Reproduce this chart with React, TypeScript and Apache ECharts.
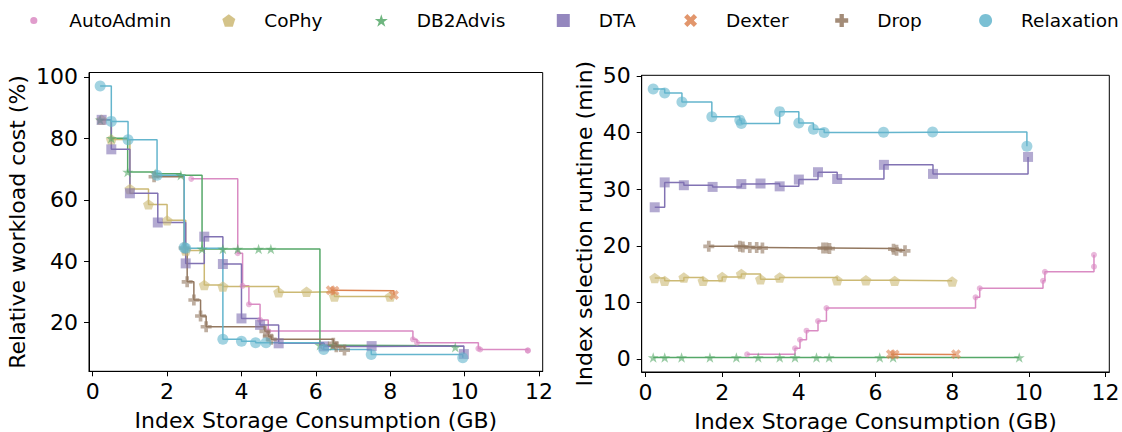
import React, { useEffect, useRef } from "react";
import * as echarts from "echarts";

const seriesNames = ["AutoAdmin", "CoPhy", "DB2Advis", "DTA", "Dexter", "Drop", "Relaxation"];
const colors = ["#DA8BC3", "#CCB974", "#55A868", "#8172B3", "#DD8452", "#937860", "#64B5CD"];

// Index storage consumption (GB), relative workload cost (%), selection runtime (min)
const autoAdminStorage = [2.65, 3.9, 4.03, 4.2, 4.5, 4.72, 8.61, 8.72, 10.37, 10.42, 11.7, 11.7];
const autoAdminCost = [66.8, 42.6, 32.0, 26.0, 20.9, 17.3, 14.6, 13.5, 11.6, 11.3, 11.0, 10.9];
const autoAdminRuntime = [0.83, 1.9, 3.4, 5.0, 6.7, 9.0, 10.9, 12.5, 13.8, 15.4, 16.3, 18.4];

const coPhyStorage = [0.24, 0.5, 1.0, 1.5, 2.0, 2.5, 3.0, 3.5, 5.0, 5.75, 6.5, 8.0];
const coPhyCost = [86, 79.6, 63.5, 58.5, 53.3, 43.5, 32.3, 31.8, 29.9, 30.1, 28.5, 28.5];
const coPhyRuntime = [14.3, 13.8, 14.4, 13.8, 14.5, 15.0, 14.1, 14.4, 13.9, 13.9, 13.8, 13.7];

const db2Storage = [0.2, 0.5, 0.94, 1.68, 2.37, 2.94, 3.5, 3.9, 4.46, 4.79, 6.11, 6.46, 9.75];
const db2Cost = [86, 80, 69, 68.5, 68, 44, 44, 44, 44, 44, 12.7, 12.5, 12.0];
const db2Runtime = [0.27, 0.27, 0.27, 0.27, 0.27, 0.27, 0.27, 0.27, 0.27, 0.27, 0.27, 0.27, 0.27];

const dtaStorage = [0.24, 0.5, 1.0, 1.75, 2.5, 3.0, 3.5, 4.0, 4.5, 5.0, 6.22, 7.5, 9.98];
const dtaCost = [86, 76.4, 62.1, 52.6, 39.3, 48.0, 39.1, 21.4, 19.3, 13.3, 12.3, 12.4, 9.8];
const dtaRuntime = [26.8, 31.2, 30.7, 30.4, 30.9, 31.0, 30.5, 31.7, 33.0, 31.8, 34.3, 32.7, 35.7];

const dexterStorage = [6.4, 6.5, 8.1];
const dexterCost = [30.6, 30.4, 29.0];
const dexterRuntime = [0.85, 0.8, 0.85];

const dropStorage = [1.65, 2.46, 2.54, 2.72, 2.9, 3.05, 4.63, 4.72, 4.8, 6.47, 6.55, 6.77];
const dropCost = [67.5, 44.3, 33.3, 27.4, 22.2, 18.7, 17.2, 15.6, 14.6, 13.3, 12.2, 11.1];
const dropRuntime = [19.9, 19.9, 19.8, 19.7, 19.7, 19.6, 19.6, 19.6, 19.5, 19.4, 19.2, 19.1];

const relaxStorage = [0.2, 0.5, 0.95, 1.73, 2.46, 2.5, 3.5, 4.0, 4.38, 4.66, 6.21, 7.49, 9.95];
const relaxCost = [97, 85.5, 79.5, 68, 44.5, 44.2, 14.6, 14.0, 13.5, 13.5, 11.3, 9.7, 8.6];
const relaxRuntime = [47.7, 47.0, 45.4, 42.8, 42.2, 41.6, 43.7, 41.7, 40.6, 40.0, 40.05, 40.1, 37.6];

const xTicks = [0, 2, 4, 6, 8, 10, 12];
const costTicks = [20, 40, 60, 80, 100];
const runtimeTicks = [0, 10, 20, 30, 40, 50];

const FONT = "DejaVu Sans";
const AXIS_FONT = 22;

const PENTAGON = "path://M0,-10 L9.511,-3.09 L5.878,8.09 L-5.878,8.09 L-9.511,-3.09 Z";
const STAR =
  "path://M0,-10 L2.245,-3.09 L9.511,-3.09 L3.633,1.18 L5.878,8.09 L0,3.82 L-5.878,8.09 L-3.633,1.18 L-9.511,-3.09 L-2.245,-3.09 Z";
const XMARK =
  "path://M1.414,-2.828 L2.828,-1.414 L1.414,0 L2.828,1.414 L1.414,2.828 L0,1.414 L-1.414,2.828 L-2.828,1.414 L-1.414,0 L-2.828,-1.414 L-1.414,-2.828 L0,-1.414 Z";
const PLUS =
  "path://M-1,-3 L1,-3 L1,-1 L3,-1 L3,1 L1,1 L1,3 L-1,3 L-1,1 L-3,1 L-3,-1 L-1,-1 Z";
const SQUARE = "path://M-1,-1 L1,-1 L1,1 L-1,1 Z";
const SMALLDOT = "path://M-10,-10 M10,10 M5.5,0 A5.5,5.5 0 1 1 -5.5,0 A5.5,5.5 0 1 1 5.5,0 Z";

const symbols = ["circle", PENTAGON, STAR, "rect", XMARK, PLUS, "circle"];
const symbolSizes = [6, 11, 11, 10, 10, 11, 11];
const legendIcons = [SMALLDOT, PENTAGON, STAR, SQUARE, XMARK, PLUS, "circle"];
const legendCenters = [33.8, 228.8, 381.3, 563.3, 690.6, 841.7, 985.6];

const storageSets = [autoAdminStorage, coPhyStorage, db2Storage, dtaStorage, dexterStorage, dropStorage, relaxStorage];
const costSets = [autoAdminCost, coPhyCost, db2Cost, dtaCost, dexterCost, dropCost, relaxCost];
const runtimeSets = [autoAdminRuntime, coPhyRuntime, db2Runtime, dtaRuntime, dexterRuntime, dropRuntime, relaxRuntime];

function makeSeries(i: number, gridIdx: number, ys: number[]) {
  const xs = storageSets[i];
  return {
    type: "line",
    name: seriesNames[i],
    xAxisIndex: gridIdx,
    yAxisIndex: gridIdx,
    data: xs.map((x, k) => [x, ys[k]]),
    step: "end",
    symbol: symbols[i],
    symbolSize: symbolSizes[i],
    symbolKeepAspect: true,
    showAllSymbol: true,
    lineStyle: { color: colors[i], width: 1.5 },
    itemStyle: { color: colors[i], opacity: 0.6 },
    emphasis: { disabled: true },
  };
}

function xAxisCfg(gridIndex: number) {
  return {
    type: "value",
    gridIndex,
    min: -0.1,
    max: 12.1,
    name: "Index Storage Consumption (GB)",
    nameLocation: "middle",
    nameGap: 38,
    nameTextStyle: { fontSize: AXIS_FONT, color: "#000", fontFamily: FONT },
    axisLine: { show: true, onZero: false, lineStyle: { color: "#000", width: 1 } },
    axisTick: { show: true, inside: false, length: 5, customValues: xTicks, lineStyle: { color: "#000" } },
    axisLabel: { customValues: xTicks, fontSize: AXIS_FONT, color: "#000", fontFamily: FONT, margin: 9 },
    splitLine: { show: false },
  };
}

function yAxisCfg(gridIndex: number, min: number, max: number, ticks: number[], name: string, gap: number) {
  return {
    type: "value",
    gridIndex,
    min,
    max,
    name,
    nameLocation: "middle",
    nameGap: gap,
    nameRotate: 90,
    nameTextStyle: { fontSize: AXIS_FONT, color: "#000", fontFamily: FONT },
    axisLine: { show: true, onZero: false, lineStyle: { color: "#000", width: 1 } },
    axisTick: { show: true, inside: false, length: 5, customValues: ticks, lineStyle: { color: "#000" } },
    axisLabel: { customValues: ticks, fontSize: AXIS_FONT, color: "#000", fontFamily: FONT, margin: 11 },
    splitLine: { show: false },
  };
}

export default function App() {
  const ref = useRef<HTMLDivElement>(null);
  useEffect(() => {
    if (!ref.current) return;
    const chart = echarts.init(ref.current, undefined, { renderer: "svg" });
    const series: any[] = [];
    for (let i = 0; i < seriesNames.length; i++) series.push(makeSeries(i, 0, costSets[i]));
    for (let i = 0; i < seriesNames.length; i++) series.push(makeSeries(i, 1, runtimeSets[i]));
    const legends = seriesNames.map((n, i) => ({
      data: [{ name: n, icon: legendIcons[i], itemStyle: { color: colors[i], opacity: 0.85 } }],
      left: legendCenters[i] - 6.5,
      top: 11,
      padding: 0,
      itemWidth: 13,
      itemHeight: 13,
      selectedMode: false,
      textStyle: { fontSize: 18.5, color: "#000", fontFamily: FONT, padding: [0, 0, 0, 24] },
    }));
    chart.setOption({
      animation: false,
      backgroundColor: "#fff",
      textStyle: { fontFamily: FONT },
      legend: legends,
      grid: [
        { left: 89, top: 72.5, width: 453.7, height: 298.8, show: true, borderColor: "#000", borderWidth: 1, outerBoundsMode: "none" },
        { left: 641.7, top: 75.3, width: 467.6, height: 296.7, show: true, borderColor: "#000", borderWidth: 1, outerBoundsMode: "none" },
      ],
      xAxis: [xAxisCfg(0), xAxisCfg(1)],
      yAxis: [
        yAxisCfg(0, 4.2, 101.4, costTicks, "Relative workload cost (%)", 61),
        yAxisCfg(1, -2.3, 50.12, runtimeTicks, "Index selection runtime (min)", 46),
      ],
      series,
    });
    return () => chart.dispose();
  }, []);
  return <div ref={ref} style={{ position: "fixed", left: 0, top: 0, width: 1122, height: 432 }} />;
}
